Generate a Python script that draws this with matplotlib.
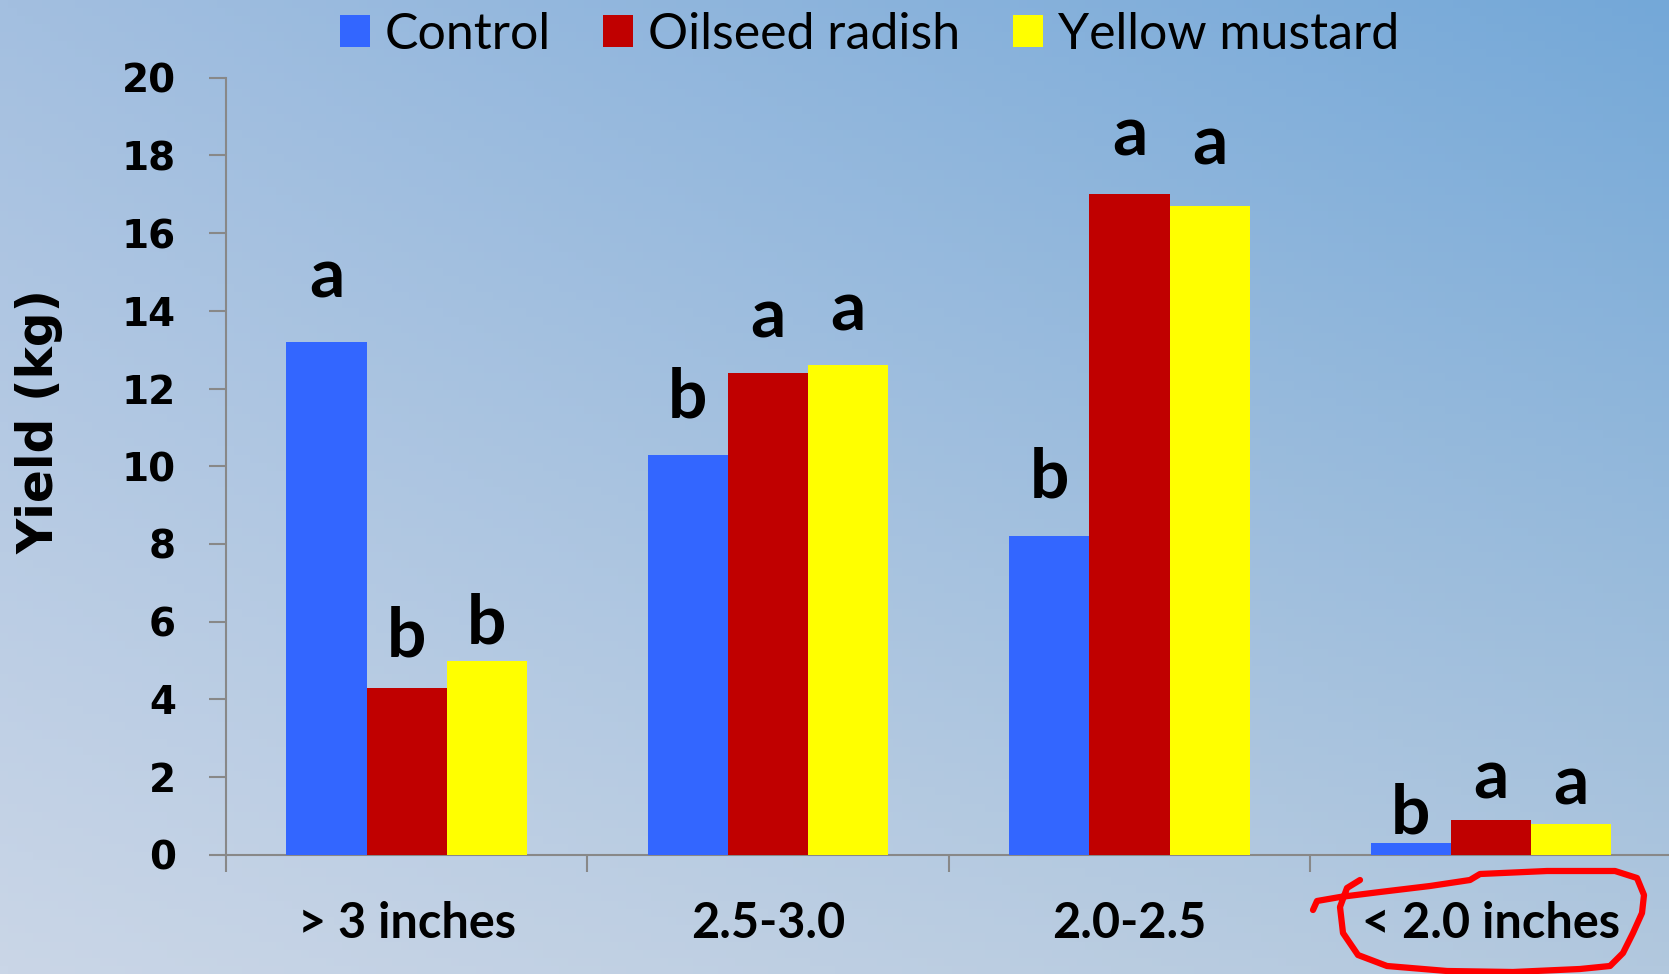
import numpy as np
import matplotlib
matplotlib.use('Agg')
import matplotlib.pyplot as plt

# data
categories = ['> 3 inches', '2.5-3.0', '2.0-2.5', '< 2.0 inches']
series = ['Control', 'Oilseed radish', 'Yellow mustard']
control = [13.2, 10.3, 8.2, 0.3]
radish = [4.3, 12.4, 17.0, 0.9]
mustard = [5.0, 12.6, 16.7, 0.8]
# significance letters and the height (kg) of their baseline
letters = [['a', 'b', 'b'], ['b', 'a', 'a'], ['b', 'a', 'a'], ['b', 'a', 'a']]
letter_y = [[14.35, 5.1, 5.45], [11.25, 13.3, 13.5],
            [9.2, 18.0, 17.75], [0.55, 1.45, 1.3]]
yticks = [0, 2, 4, 6, 8, 10, 12, 14, 16, 18, 20]

colors = ['#3366ff', '#c00000', '#ffff00']

fig = plt.figure(figsize=(16.69, 9.74), dpi=100)

# background gradient (bilinear between corner colours)
bg = fig.add_axes([0, 0, 1, 1], zorder=-10)
tl = np.array([163, 191, 224]) / 255
tr = np.array([116, 168, 216]) / 255
bl = np.array([202, 214, 231]) / 255
br = np.array([178, 200, 222]) / 255
u = np.linspace(0, 1, 200)[None, :, None]
v = np.linspace(0, 1, 120)[:, None, None]
img = (1 - v) * ((1 - u) * tl + u * tr) + v * ((1 - u) * bl + u * br)
bg.imshow(img, aspect='auto', extent=[0, 1, 0, 1], origin='upper')
bg.axis('off')

ax = fig.add_axes([0.1354, 0.1222, 0.8662, 0.7982])
ax.patch.set_alpha(0)

x = np.arange(len(categories))
w = 0.222
for i, (vals, name) in enumerate(zip([control, radish, mustard], series)):
    ax.bar(x + (i - 1) * w, vals, w, color=colors[i], label=name, zorder=3)

for g in range(len(categories)):
    for i in range(3):
        ax.text(x[g] + (i - 1) * w, letter_y[g][i], letters[g][i],
                ha='center', va='baseline', fontsize=50,
                fontweight='bold', family='Lato', color='black')

ax.set_xlim(-0.5, 3.5)
ax.set_ylim(0, 20)
ax.set_yticks(yticks)
ax.set_yticklabels([str(t) for t in yticks], fontsize=28,
                   fontweight='bold', family='DejaVu Sans')
ax.tick_params(axis='y', length=12, width=1.5, color='#888888', pad=24)

ax.set_xticks(np.arange(-0.5, 4, 1))
ax.set_xticklabels([])
ax.tick_params(axis='x', which='major', length=12, width=1.5, color='#888888')
ax.set_xticks(x, minor=True)
ax.set_xticklabels(categories, minor=True, fontsize=35,
                   fontweight='bold', family='Lato')
ax.tick_params(axis='x', which='minor', length=0, pad=33)

for s in ['top', 'right']:
    ax.spines[s].set_visible(False)
for s in ['left', 'bottom']:
    ax.spines[s].set_color('#888888')
    ax.spines[s].set_linewidth(1.5)

fig.text(40 / 1669, 1 - 422 / 974, 'Yield (kg)', rotation=90,
         ha='center', va='center', fontsize=35, fontweight='bold',
         family='DejaVu Sans')

leg = fig.legend(loc='upper center', bbox_to_anchor=(0.521, 1.034), ncol=3,
                 frameon=False, handlelength=0.6, handleheight=0.6,
                 handletextpad=0.3, columnspacing=1.05,
                 prop={'family': 'Lato', 'size': 36})

# hand-drawn red loop round the last category label (figure pixels)
loop = np.array([
    (1360, 880), (1347, 888), (1340, 907), (1343, 933), (1358, 955),
    (1387, 966), (1447, 971), (1513, 972), (1580, 969), (1610, 966),
    (1623, 953), (1633, 933), (1642, 913), (1644, 895), (1637, 878),
    (1615, 871), (1547, 871), (1480, 874), (1470, 880), (1430, 886),
    (1380, 892), (1340, 897), (1317, 901), (1313, 910)])
fig.add_artist(plt.Line2D(loop[:, 0] / 1669, 1 - loop[:, 1] / 974,
                          color='#ff0000', lw=4.5, solid_capstyle='round',
                          solid_joinstyle='round'))

fig.savefig('out.png', dpi=100)
